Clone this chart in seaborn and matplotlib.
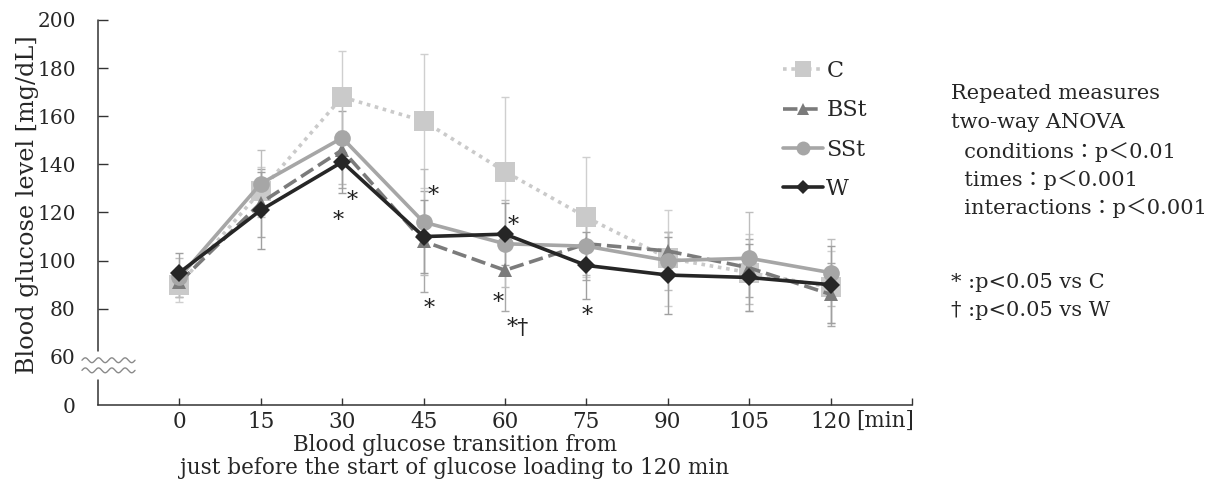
import matplotlib

matplotlib.use("Agg")

import matplotlib.pyplot as plt
import numpy as np
import seaborn as sns
from matplotlib.lines import Line2D


TIMES = [0, 15, 30, 45, 60, 75, 90, 105, 120]
GROUPS = ["C", "BSt", "SSt", "W"]
MEANS = {
    "C": [90, 129, 168, 158, 137, 118, 101, 95, 89],
    "BSt": [91, 124, 146, 108, 96, 107, 104, 97, 86],
    "SSt": [93, 132, 151, 116, 107, 106, 100, 101, 95],
    "W": [95, 121, 141, 110, 111, 98, 94, 93, 90],
}
SDS = {
    "C": [7, 10, 19, 28, 31, 25, 20, 16, 15],
    "BSt": [6, 14, 16, 21, 17, 15, 8, 12, 13],
    "SSt": [8, 14, 19, 22, 18, 12, 12, 19, 14],
    "W": [8, 16, 13, 15, 13, 14, 16, 14, 16],
}
Y_TICKS = [40, 60, 80, 100, 120, 140, 160, 180, 200]
Y_TICK_LABELS = ["0", "60", "80", "100", "120", "140", "160", "180", "200"]
X_TICK_LABELS = ["0", "15", "30", "45", "60", "75", "90", "105", "120", ""]

# significance marks (x in min, y in mg/dL)
SIG_MARKS = [
    ("*", 31.8, 127.6),
    ("*", 29.3, 119.2),
    ("*", 46.7, 129.7),
    ("*", 46.1, 82.8),
    ("*", 61.5, 117.2),
    ("*", 58.8, 85.0),
    ("*†", 62.3, 74.5),
    ("*", 75.1, 79.5),
]

ANOVA_LINES = [
    "Repeated measures",
    "two-way ANOVA",
    "  conditions：p＜0.01",
    "  times：p＜0.001",
    "  interactions：p＜0.001",
]
NOTE_LINES = ["* :p<0.05 vs C", "† :p<0.05 vs W"]

COLORS = {"C": "#cacaca", "BSt": "#7b7b7b", "SSt": "#a6a6a6", "W": "#262626"}
ERR_COLORS = {"C": "#cfcfcf", "BSt": "#a8a8a8", "SSt": "#bdbdbd", "W": "#a0a0a0"}
MARKERS = {"C": "s", "BSt": "^", "SSt": "o", "W": "D"}
MSIZE = {"C": 14.5, "BSt": 10, "SSt": 12, "W": 9.5}
LEG_MSIZE = {"C": 12, "BSt": 8, "SSt": 10, "W": 7}
LSTYLE = {"C": (0, (1.0, 1.3)), "BSt": (0, (4.0, 1.6)), "SSt": "-", "W": "-"}

SERIF = ["DejaVu Serif", "Noto Sans CJK JP"]


def main():
    sns.set_style("ticks")
    plt.rcParams["font.family"] = SERIF

    fig = plt.figure(figsize=(12.2, 4.94), dpi=100)
    ax = fig.add_axes([98 / 1220, 1 - 405 / 494, 814 / 1220, 385 / 494])

    for g in GROUPS:
        ax.errorbar(
            TIMES, MEANS[g], yerr=SDS[g], fmt="none",
            ecolor=ERR_COLORS[g], elinewidth=1.0, capsize=3, capthick=1.0, zorder=1,
        )
    for i, g in enumerate(GROUPS):
        sns.lineplot(
            x=TIMES, y=MEANS[g], ax=ax, color=COLORS[g], linewidth=2.6,
            linestyle=LSTYLE[g], marker=MARKERS[g], markersize=MSIZE[g],
            markeredgewidth=0, zorder=2 + i, legend=False,
        )

    ax.set_xlim(-15, 135)
    ax.set_ylim(40, 200)
    ax.set_xticks(list(range(0, 136, 15)))
    ax.set_xticklabels(X_TICK_LABELS, fontsize=15.5)
    ax.set_yticks(Y_TICKS)
    ax.set_yticklabels(Y_TICK_LABELS, fontsize=14.5)
    ax.tick_params(axis="both", direction="in", width=1, color="#333333")
    ax.tick_params(axis="y", pad=16, length=7)
    ax.tick_params(axis="x", pad=4, length=5)
    ax.yaxis.get_major_ticks()[1].tick1line.set_visible(False)
    ax.yaxis.get_major_ticks()[0].tick1line.set_visible(False)

    sns.despine(ax=ax)
    ax.spines["left"].set_visible(False)
    ax.spines["bottom"].set_color("#333333")
    ax.spines["bottom"].set_linewidth(1.1)
    ytr = ax.get_yaxis_transform()
    ax.plot([0, 0], [40, 50.2], transform=ytr, color="#333333", lw=1.1, clip_on=False)
    ax.plot([0, 0], [62.5, 200], transform=ytr, color="#333333", lw=1.1, clip_on=False)
    xs = np.linspace(-0.0197, 0.0455, 200)
    wave = np.sin(2 * np.pi * 4 * (xs - xs[0]) / (xs[-1] - xs[0]))
    for yc in (58.6, 54.4):
        ax.plot(xs, yc + 1.0 * wave, transform=ytr, color="#8a8a8a", lw=1.0, clip_on=False)

    ax.text(130, -0.04, "[min]", fontsize=15.5, ha="center", va="center",
            transform=ax.get_xaxis_transform())

    ax.set_xlabel(
        "Blood glucose transition from\njust before the start of glucose loading to 120 min",
        fontsize=15.5, linespacing=1.05,
    )
    ax.xaxis.set_label_coords(0.4386, -0.0755)
    ax.set_ylabel("Blood glucose level [mg/dL]", fontsize=17.2)
    ax.yaxis.set_label_coords(-0.0725, 0.52)

    for s, x, y in SIG_MARKS:
        ax.annotate(s, (x, y), xytext=(0, -9), textcoords="offset points",
                    ha="center", va="baseline", fontsize=16, color="#222222")

    handles = [
        Line2D([], [], color=COLORS[g], lw=2.6, linestyle=LSTYLE[g], marker=MARKERS[g],
               markersize=LEG_MSIZE[g], markeredgewidth=0)
        for g in GROUPS
    ]
    ax.legend(
        handles, GROUPS, loc="upper left", bbox_to_anchor=(783 / 1220, 1 - 60 / 494),
        bbox_transform=fig.transFigure, frameon=False, handlelength=1.8,
        handletextpad=0.15, labelspacing=0.78, borderpad=0, borderaxespad=0,
        prop={"family": SERIF, "size": 16},
    )

    for line, y in zip(ANOVA_LINES, [93, 122, 152, 180, 208]):
        fig.text(951 / 1220, 1 - y / 494, line, va="center", ha="left", fontsize=15, family=SERIF)
    for line, y in zip(NOTE_LINES, [282, 310]):
        fig.text(951 / 1220, 1 - y / 494, line, va="center", ha="left", fontsize=15, family=SERIF)

    fig.savefig("out.png", dpi=100)
    plt.close(fig)


if __name__ == "__main__":
    main()
